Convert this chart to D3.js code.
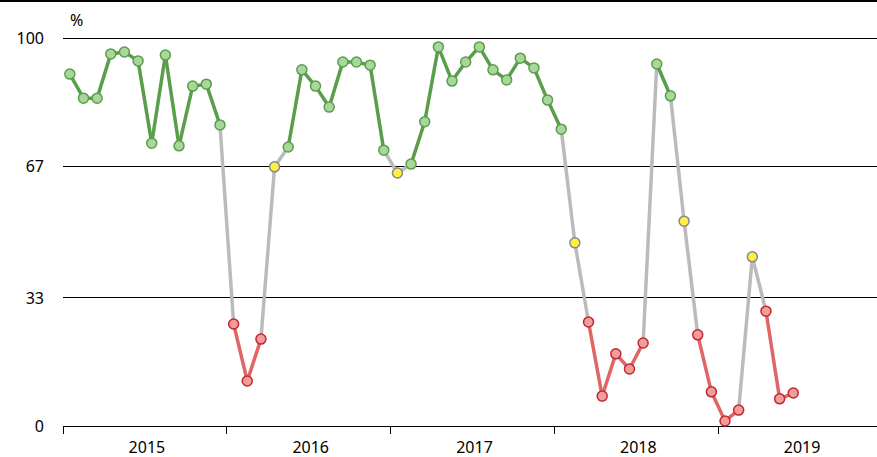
<!DOCTYPE html>
<html>
<head>
<meta charset="utf-8">
<script src="https://cdn.jsdelivr.net/npm/d3@7"></script>
<style>
  body { margin: 0; background: #fff; }
  text { font-family: "Noto Sans", sans-serif; }
</style>
</head>
<body>
<div id="chart"></div>
<script>
// monthly values, Jan 2015 .. Jun 2019
var values = [90.7, 84.5, 84.5, 95.9, 96.4, 94.1, 72.9, 95.6, 72.2, 87.6, 88.1, 77.6,
              26.3, 11.6, 22.4, 66.8, 71.9, 91.8, 87.6, 82.2, 93.8, 93.8, 93.0, 71.1,
              65.2, 67.5, 78.4, 97.7, 88.9, 93.8, 97.7, 91.8, 89.2, 94.8, 92.3, 84.0,
              76.5, 47.2, 26.8, 7.7, 18.6, 14.7, 21.4, 93.3, 85.1, 52.8, 23.5, 8.8,
              1.3, 4.1, 43.6, 29.6, 7.0, 8.5];
var years = ["2015", "2016", "2017", "2018", "2019"];
var yTicks = [0, 33, 67, 100];

var W = 877, H = 457;
var margin = {top: 38, right: 0, bottom: 31, left: 63};
var plotW = W - margin.left - margin.right,
    plotH = H - margin.top - margin.bottom;

var svg = d3.select("#chart").append("svg")
    .attr("width", W).attr("height", H);

// top border
svg.append("line").attr("x1", 0).attr("x2", W).attr("y1", 1).attr("y2", 1)
  .attr("stroke", "#000").attr("stroke-width", 2).attr("shape-rendering", "crispEdges");

var g = svg.append("g").attr("transform", "translate(" + margin.left + "," + margin.top + ")");

var monthW = 13.65;
var x = d3.scaleLinear().domain([0, 12 * years.length]).range([0, monthW * 12 * years.length]);
var y = d3.scaleLinear().domain([0, 100]).range([plotH, 0]);

// gridlines + labels
yTicks.forEach(function(t) {
  g.append("line").attr("x1", 0).attr("x2", plotW).attr("y1", y(t)).attr("y2", y(t))
    .attr("stroke", "#000").attr("stroke-width", 1).attr("shape-rendering", "crispEdges");
  g.append("text").attr("x", -19).attr("y", y(t)).attr("dy", "0.35em")
    .attr("text-anchor", "end").attr("font-size", 16).text(t);
});
svg.append("text").attr("x", 70).attr("y", 26).attr("font-size", 16).text("%");

// year ticks & labels
years.forEach(function(yr, i) {
  g.append("line").attr("x1", x(i * 12)).attr("x2", x(i * 12))
    .attr("y1", plotH).attr("y2", plotH + 8).attr("stroke", "#000")
    .attr("shape-rendering", "crispEdges");
  g.append("text").attr("x", x(i * 12 + 6) + 2).attr("y", plotH + 27)
    .attr("text-anchor", "middle").attr("font-size", 16).text(yr);
});
g.append("line").attr("x1", x(60)).attr("x2", x(60))
  .attr("y1", plotH).attr("y2", plotH + 8).attr("stroke", "#000")
  .attr("shape-rendering", "crispEdges");

function cat(v) { return v >= 67 ? "g" : (v < 33 ? "r" : "y"); }
var lineCol = {g: "#5a9e4b", r: "#e06666"};
var fill = {g: "#a9d69a", r: "#f29c9c", y: "#ffee44"};
var stroke = {g: "#5a9e4b", r: "#c0262f", y: "#888"};

for (var i = 0; i < values.length - 1; i++) {
  var a = cat(values[i]), b = cat(values[i + 1]);
  var col = (a === b && a !== "y") ? lineCol[a] : "#bbbbbb";
  g.append("line")
    .attr("x1", x(i + 0.5)).attr("y1", y(values[i]))
    .attr("x2", x(i + 1.5)).attr("y2", y(values[i + 1]))
    .attr("stroke", col).attr("stroke-width", 3.5).attr("stroke-linecap", "round");
}

g.selectAll("circle").data(values).enter().append("circle")
  .attr("cx", function(d, i) { return x(i + 0.5); })
  .attr("cy", function(d) { return y(d); })
  .attr("r", 5)
  .attr("fill", function(d) { return fill[cat(d)]; })
  .attr("stroke", function(d) { return stroke[cat(d)]; })
  .attr("stroke-width", 1.5);
</script>
</body>
</html>
